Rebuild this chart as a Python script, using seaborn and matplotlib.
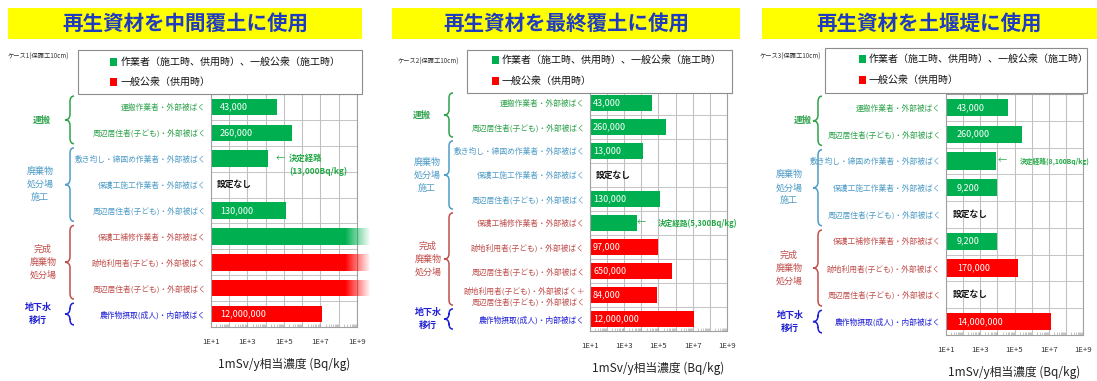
import numpy as np
import pandas as pd
import matplotlib
matplotlib.use("Agg")
import matplotlib.pyplot as plt
from matplotlib.patches import Rectangle, PathPatch
from matplotlib.path import Path
from matplotlib.transforms import blended_transform_factory
from matplotlib.ticker import FixedLocator, FixedFormatter, LogLocator, NullFormatter
import seaborn as sns

sns.set_style("white")
plt.rcParams["font.family"] = ["Noto Sans CJK JP", "DejaVu Sans"]

# ---------------- data ----------------
titles = ["再生資材を中間覆土に使用", "再生資材を最終覆土に使用", "再生資材を土堰堤に使用"]
case_labels = ["ケース1(保護工10cm)", "ケース2(保護工10cm)", "ケース3(保護工10cm)"]
legend_labels = ["作業者（施工時、供用時）、一般公衆（施工時）", "一般公衆（供用時）"]
x_tick_labels = ["1E+1", "1E+3", "1E+5", "1E+7", "1E+9"]
x_label = "1mSv/y相当濃度 (Bq/kg)"
group_names = ["運搬", "廃棄物\n処分場\n施工", "完成\n廃棄物\n処分場", "地下水\n移行"]
none_text = "設定なし"
route_text = "決定経路"

case1_rows = ["運搬作業者・外部被ばく", "周辺居住者(子ども)・外部被ばく",
              "敷き均し・締固め作業者・外部被ばく", "保護工施工作業者・外部被ばく",
              "周辺居住者(子ども)・外部被ばく", "保護工補修作業者・外部被ばく",
              "跡地利用者(子ども)・外部被ばく", "周辺居住者(子ども)・外部被ばく",
              "農作物摂取(成人)・内部被ばく"]
case1_values = [43000, 260000, 13000, np.nan, 130000, np.inf, np.inf, np.inf, 12000000]
case1_kinds = ["worker"] * 6 + ["public"] * 3
case1_groups = [(0, 1), (2, 4), (5, 7), (8, 8)]
case1_route = 2

case2_rows = ["運搬作業者・外部被ばく", "周辺居住者(子ども)・外部被ばく",
              "敷き均し・締固め作業者・外部被ばく", "保護工施工作業者・外部被ばく",
              "周辺居住者(子ども)・外部被ばく", "保護工補修作業者・外部被ばく",
              "跡地利用者(子ども)・外部被ばく", "周辺居住者(子ども)・外部被ばく",
              "跡地利用者(子ども)・外部被ばく＋\n周辺居住者(子ども)・外部被ばく",
              "農作物摂取(成人)・内部被ばく"]
case2_values = [43000, 260000, 13000, np.nan, 130000, 5300, 97000, 650000, 84000, 12000000]
case2_kinds = ["worker"] * 6 + ["public"] * 4
case2_groups = [(0, 1), (2, 4), (5, 8), (9, 9)]
case2_route = 5

case3_rows = ["運搬作業者・外部被ばく", "周辺居住者(子ども)・外部被ばく",
              "敷き均し・締固め作業者・外部被ばく", "保護工施工作業者・外部被ばく",
              "周辺居住者(子ども)・外部被ばく", "保護工補修作業者・外部被ばく",
              "跡地利用者(子ども)・外部被ばく", "周辺居住者(子ども)・外部被ばく",
              "農作物摂取(成人)・内部被ばく"]
case3_values = [43000, 260000, 8100, 9200, np.nan, 9200, 170000, np.nan, 14000000]
case3_kinds = ["worker"] * 6 + ["public"] * 3
case3_groups = [(0, 1), (2, 4), (5, 7), (8, 8)]
case3_route = 2

# ---------------- styling ----------------
W, H = 1097, 381
palette = {"worker": "#00b050", "public": "#ff0000"}
group_colors = ["#2fa24c", "#4f9cc6", "#c0504d", "#1f1fd6"]
route_color = "#22a845"
title_color = "#1f3cc0"

panels = [
    dict(rows=case1_rows, values=case1_values, kinds=case1_kinds, groups=case1_groups, route=case1_route,
         ax=(211, 94, 357, 327), title=(8, 8, 362, 39), case=(8, 57), legend=(78, 50, 362, 94),
         leg_y=(62, 82), sq_x=113, txt_x=121, val_off=9, none_off=6, arrow_off=8, text_off=21,
         route_two_lines=True, route_size=6, group_x=[42, 40, 43, 38], brace_x=70),
    dict(rows=case2_rows, values=case2_values, kinds=case2_kinds, groups=case2_groups, route=case2_route,
         ax=(590, 91, 727, 331), title=(392, 8, 740, 39), case=(398, 62), legend=(467, 50, 732, 93),
         leg_y=(60, 81), sq_x=495, txt_x=502, val_off=3, none_off=6, arrow_off=0, text_off=21,
         route_two_lines=False, route_size=5.5, group_x=[422, 427, 428, 428], brace_x=449),
    dict(rows=case3_rows, values=case3_values, kinds=case3_kinds, groups=case3_groups, route=case3_route,
         ax=(946, 94, 1083, 335), title=(762, 8, 1097, 39), case=(760, 57), legend=(825, 48, 1087, 93),
         leg_y=(59, 80), sq_x=862, txt_x=869, val_off=11, none_off=7, arrow_off=2, text_off=24,
         route_two_lines=False, route_size=4.9, group_x=[803, 789, 789, 790], brace_x=818),
]

BAR_W = 0.64
X_LO, X_HI = 1e1, 1e9
fig = plt.figure(figsize=(W / 100, H / 100), dpi=100)


def fx(x):
    return x / W


def fy(y):
    return 1 - y / H


def draw_brace(ax, x_px, a, b, color):
    tr = blended_transform_factory(fig.transFigure, ax.transData)
    y_top, y_bot = a - 0.5 + 0.08, b + 0.5 - 0.08
    y_mid = (y_top + y_bot) / 2
    r = 0.22
    xv, xt, xp = fx(x_px), fx(x_px + 4), fx(x_px - 5)
    verts = [(xt, y_top), (xv, y_top), (xv, y_top + r),
             (xv, y_mid - r), (xv, y_mid), (xp, y_mid),
             (xv, y_mid), (xv, y_mid + r),
             (xv, y_bot - r), (xv, y_bot), (xt, y_bot)]
    codes = [Path.MOVETO, Path.CURVE3, Path.CURVE3,
             Path.LINETO, Path.CURVE3, Path.CURVE3,
             Path.CURVE3, Path.CURVE3,
             Path.LINETO, Path.CURVE3, Path.CURVE3]
    patch = PathPatch(Path(verts, codes), transform=tr, fill=False, edgecolor=color,
                      lw=1.1, clip_on=False)
    fig.add_artist(patch)


for p, title, case_label in zip(panels, titles, case_labels):
    L, T, R, B = p["ax"]
    ax = fig.add_axes([fx(L), fy(B), (R - L) / W, (B - T) / H])
    n = len(p["rows"])
    row_ids = [f"r{i}" for i in range(n)]
    df = pd.DataFrame({"row": row_ids, "value": p["values"], "kind": p["kinds"]})
    finite = df[np.isfinite(df["value"])]

    sns.barplot(data=finite, x="value", y="row", hue="kind", order=row_ids,
                hue_order=["worker", "public"], palette=palette, orient="h",
                dodge=False, width=BAR_W, saturation=1, legend=False,
                log_scale=True, ax=ax, zorder=2)
    # on a log axis a bar cannot start at zero: start it at the left edge instead
    for bar in ax.patches:
        right = bar.get_x() + bar.get_width()
        bar.set_x(X_LO)
        bar.set_width(right - X_LO)
        bar.set_linewidth(0)

    ax.set_xlim(X_LO, X_HI)
    ax.set_ylim(n - 0.5, -0.5)

    # bars without an upper limit fade out past the right edge
    for i, row in df.iterrows():
        if np.isposinf(row["value"]):
            c = palette[row["kind"]]
            ax.barh(i, 10 ** 8.35 - X_LO, left=X_LO, height=BAR_W, color=c, lw=0, zorder=2)
            edges = np.logspace(8.35, 9.75, 60)
            alphas = np.linspace(1, 0, len(edges) - 1)
            for e0, e1, a in zip(edges[:-1], edges[1:], alphas):
                ax.barh(i, e1 - e0, left=e0, height=BAR_W, color=c, alpha=a,
                        lw=0, zorder=3, clip_on=False, antialiased=False)

    # grid: every decade vertically, row separators horizontally
    decades = 10.0 ** np.arange(1, 10)
    ax.xaxis.set_major_locator(FixedLocator(decades))
    ax.xaxis.set_major_formatter(FixedFormatter(
        [x_tick_labels[k // 2] if k % 2 == 0 else "" for k in range(9)]))
    ax.xaxis.set_minor_locator(LogLocator(base=10, subs=np.arange(2, 10), numticks=100))
    ax.xaxis.set_minor_formatter(NullFormatter())
    ax.grid(True, axis="x", which="major", color="#c0c0c0", lw=0.75, zorder=0)
    for k in range(n - 1):
        ax.axhline(k + 0.5, color="#c4c4c4", lw=0.7, zorder=0)
    ax.set_axisbelow(True)
    ax.tick_params(axis="x", which="major", length=0, pad=8, labelsize=5.6, labelcolor="#333333")
    ax.tick_params(axis="x", which="minor", direction="in", length=2, width=0.4,
                   color="#999999", bottom=True, top=False)
    ax.tick_params(axis="y", length=0, pad=3.5)
    for s in ax.spines.values():
        s.set_color("#a0a0a0")
        s.set_linewidth(0.8)

    ax.set_xlabel(x_label, fontsize=8.5, labelpad=8.5, color="#222222")
    ax.set_ylabel("")

    # category labels coloured by group
    ax.set_yticks(range(n))
    ax.set_yticklabels(p["rows"], fontsize=5.6, linespacing=1.4)
    row_group = np.zeros(n, dtype=int)
    for g, (a, b) in enumerate(p["groups"]):
        row_group[a:b + 1] = g
    for lbl, g in zip(ax.get_yticklabels(), row_group):
        lbl.set_color(group_colors[g])

    # value labels, "設定なし" and the decisive route
    for i, row in df.iterrows():
        v = row["value"]
        if np.isnan(v):
            ax.annotate(none_text, xy=(0, i), xycoords=("axes fraction", "data"),
                        xytext=(p["none_off"] * 0.72, 0), textcoords="offset points",
                        ha="left", va="center", fontsize=6.3, fontweight="bold", color="#111111")
        elif np.isfinite(v) and i != p["route"]:
            ax.annotate(f"{v:,.0f}", xy=(0, i), xycoords=("axes fraction", "data"),
                        xytext=(p["val_off"] * 0.72, 0), textcoords="offset points",
                        ha="left", va="center", fontsize=6.5, color="white", zorder=4)
    rv = p["values"][p["route"]]
    ri = p["route"]
    ax.annotate("←", xy=(rv, ri), xytext=(p["arrow_off"] * 0.72, 0), textcoords="offset points",
                ha="left", va="center", fontsize=6.5, color=route_color, annotation_clip=False)
    if p["route_two_lines"]:
        ax.annotate(f"{route_text}\n({rv:,.0f}Bq/kg)", xy=(rv, ri),
                    xytext=(p["text_off"] * 0.72, -4.3), textcoords="offset points",
                    ha="left", va="center", fontsize=p["route_size"], color=route_color,
                    fontweight="bold", linespacing=1.5, annotation_clip=False)
    else:
        ax.annotate(f"{route_text}({rv:,.0f}Bq/kg)", xy=(rv, ri),
                    xytext=(p["text_off"] * 0.72, 0), textcoords="offset points",
                    ha="left", va="center", fontsize=p["route_size"], color=route_color,
                    fontweight="bold", annotation_clip=False)

    # group labels with braces
    tr = blended_transform_factory(fig.transFigure, ax.transData)
    for g, (a, b) in enumerate(p["groups"]):
        fig.text(fx(p["group_x"][g]), (a + b) / 2, group_names[g], transform=tr,
                 ha="center", va="center", fontsize=6.5, color=group_colors[g],
                 linespacing=1.55, fontweight="bold" if g in (0, 3) else "normal")
        draw_brace(ax, p["brace_x"], a, b, group_colors[g])

    # title band
    tx0, ty0, tx1, ty1 = p["title"]
    fig.add_artist(Rectangle((fx(tx0), fy(ty1)), (tx1 - tx0) / W, (ty1 - ty0) / H,
                             transform=fig.transFigure, facecolor="#ffff00", edgecolor="none"))
    fig.text(fx((tx0 + tx1) / 2), fy((ty0 + ty1) / 2 + 1), title, ha="center", va="center",
             fontsize=14.8, fontweight="bold", color=title_color)

    # case label
    fig.text(fx(p["case"][0]), fy(p["case"][1]), case_label, ha="left", va="center",
             fontsize=4.5, color="#333333")

    # legend box
    lx0, ly0, lx1, ly1 = p["legend"]
    fig.add_artist(Rectangle((fx(lx0), fy(ly1)), (lx1 - lx0) / W, (ly1 - ly0) / H,
                             transform=fig.transFigure, facecolor="white",
                             edgecolor="#8c8c8c", lw=0.8, zorder=5))
    for yy, kind, text in zip(p["leg_y"], ["worker", "public"], legend_labels):
        fig.add_artist(Rectangle((fx(p["sq_x"] - 3), fy(yy + 3.5)), 6.5 / W, 7 / H,
                                 transform=fig.transFigure, facecolor=palette[kind],
                                 edgecolor="none", zorder=6))
        fig.text(fx(p["txt_x"]), fy(yy), text, ha="left", va="center", fontsize=7.2,
                 color="#111111", zorder=6)

fig.savefig("out.png", dpi=100)
